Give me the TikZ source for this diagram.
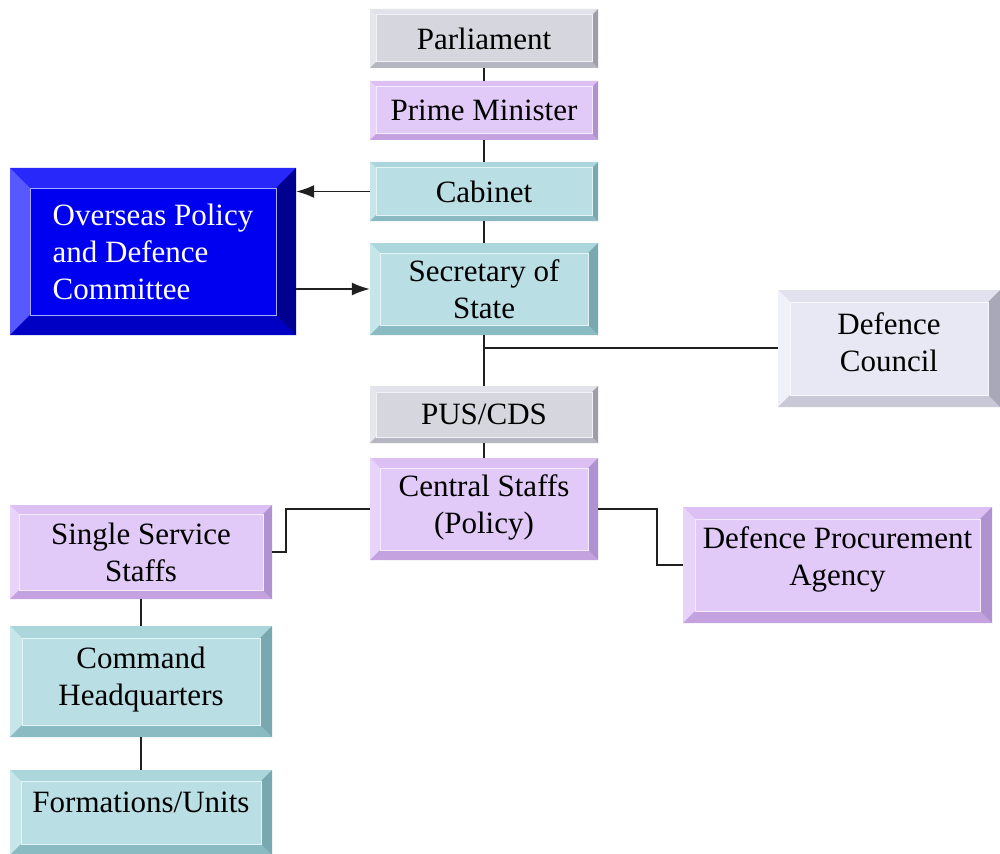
\documentclass[tikz,border=0pt]{standalone}
\usepackage{fontspec}
\setmainfont{Liberation Serif}
\usetikzlibrary{arrows.meta}
% gray scheme
\definecolor{grayF}{HTML}{D6D6DF}\definecolor{grayT}{HTML}{E2E2EA}\definecolor{grayL}{HTML}{E6E6EE}
\definecolor{grayB}{HTML}{B6B6C2}\definecolor{grayR}{HTML}{9E9EAA}\definecolor{grayE}{HTML}{F2F2F6}
% purple scheme
\definecolor{purF}{HTML}{E2CAF8}\definecolor{purT}{HTML}{DCC0F4}\definecolor{purL}{HTML}{E8D4FA}
\definecolor{purB}{HTML}{C4A2E0}\definecolor{purR}{HTML}{B092D0}\definecolor{purE}{HTML}{F4ECFC}
% teal scheme
\definecolor{tealF}{HTML}{B9DEE3}\definecolor{tealT}{HTML}{AAD6DC}\definecolor{tealL}{HTML}{C6E6EA}
\definecolor{tealB}{HTML}{8ABAC2}\definecolor{tealR}{HTML}{78A8B0}\definecolor{tealE}{HTML}{E4F4F6}
% blue scheme
\definecolor{blueF}{HTML}{0000F0}\definecolor{blueT}{HTML}{2828FA}\definecolor{blueL}{HTML}{5858FF}
\definecolor{blueB}{HTML}{0000C4}\definecolor{blueR}{HTML}{000090}\definecolor{blueE}{HTML}{A8A8FF}
% light scheme
\definecolor{liteF}{HTML}{E8E8F4}\definecolor{liteT}{HTML}{E2E2EE}\definecolor{liteL}{HTML}{F0F0F8}
\definecolor{liteB}{HTML}{C8C8D6}\definecolor{liteR}{HTML}{A8A8B8}\definecolor{liteE}{HTML}{F8F8FC}
\definecolor{lineC}{HTML}{202020}
\tikzset{
  boxnode/.style={rectangle, inner sep=0pt, draw=none},
  boxtext/.style={inner sep=0pt, align=center, font=\fontsize{31}{37}\selectfont},
  conn/.style={lineC, line width=1.6pt},
  arr/.style={conn, -{Latex[length=18pt,width=13pt]}},
}
% #1 name, #2 x1, #3 y1, #4 x2, #5 y2, #6 bevel, #7 scheme, #8 text, #9 text options
\newcommand\bevbox[9]{%
  \fill[#7F] (#2,#3) rectangle (#4,#5);
  \fill[#7T] (#2,#3) -- (#4,#3) -- ({#4-#6},{#3+#6}) -- ({#2+#6},{#3+#6}) -- cycle;
  \fill[#7L] (#2,#3) -- ({#2+#6},{#3+#6}) -- ({#2+#6},{#5-#6}) -- (#2,#5) -- cycle;
  \fill[#7B] (#2,#5) -- ({#2+#6},{#5-#6}) -- ({#4-#6},{#5-#6}) -- (#4,#5) -- cycle;
  \fill[#7R] (#4,#3) -- (#4,#5) -- ({#4-#6},{#5-#6}) -- ({#4-#6},{#3+#6}) -- cycle;
  \draw[#7E, line width=1pt] ({#2+#6},{#3+#6}) rectangle ({#4-#6},{#5-#6});
  \node[boxnode, minimum width={(#4-#2)*1pt}, minimum height={(#5-#3)*1pt}] (#1) at ({(#2+#4)/2},{(#3+#5)/2}) {};
  \node[boxtext, #9] (#1-text) at (#1.center) {#8};
}
\begin{document}
\begin{tikzpicture}[x=1pt, y=-1pt]
\useasboundingbox (0,0) rectangle (1000,853);
\fill[white] (0,0) rectangle (1000,853);

\bevbox{parl}{370}{9}{598}{68}{6}{gray}{Parliament}{}
\bevbox{pm}{370}{81}{598}{140}{6}{pur}{Prime Minister}{}
\bevbox{cab}{370}{162}{598}{221}{6}{teal}{Cabinet}{}
\bevbox{sec}{370}{243}{598}{335}{10}{teal}{Secretary of\\State}{}
\bevbox{opd}{10}{168}{296}{335}{20}{blue}{Overseas Policy\\and Defence\\Committee}{align=left, text=white}
\bevbox{dc}{778}{290}{1000}{407}{12}{lite}{Defence\\Council}{yshift=6pt}
\bevbox{pus}{370}{386}{598}{443}{6}{gray}{PUS/CDS}{}
\bevbox{cs}{370}{458}{598}{560}{10}{pur}{Central Staffs\\(Policy)}{yshift=2pt}
\bevbox{dpa}{683}{507}{992}{623}{12}{pur}{Defence Procurement\\Agency}{yshift=6pt}
\bevbox{sss}{10}{505}{272}{599}{9}{pur}{Single Service\\Staffs}{}
\bevbox{cmd}{10}{626}{272}{737}{12}{teal}{Command\\Headquarters}{yshift=2pt}
\bevbox{fu}{10}{770}{272}{855}{11}{teal}{Formations/Units}{yshift=10pt}

% connectors
\draw[conn] (parl) -- (pm);
\draw[conn] (pm) -- (cab);
\draw[conn] (cab) -- (sec);
\draw[arr] (cab.west) -- (opd.east |- cab.west);
\draw[arr] (opd.east |- sec.west) -- (sec.west);
\draw[conn] (sec) -- (pus);
\coordinate (j1) at (484,348);
\draw[conn] (j1) -- (j1 -| dc.west);
\draw[conn] (pus) -- (cs);
\draw[conn] (cs.west) -- ++(-84,0) |- (sss.east);
\draw[conn] (cs.east) -- ++(59,0) |- (dpa.west);
\draw[conn] (sss) -- (cmd);
\draw[conn] (cmd) -- (fu);
\end{tikzpicture}
\end{document}
